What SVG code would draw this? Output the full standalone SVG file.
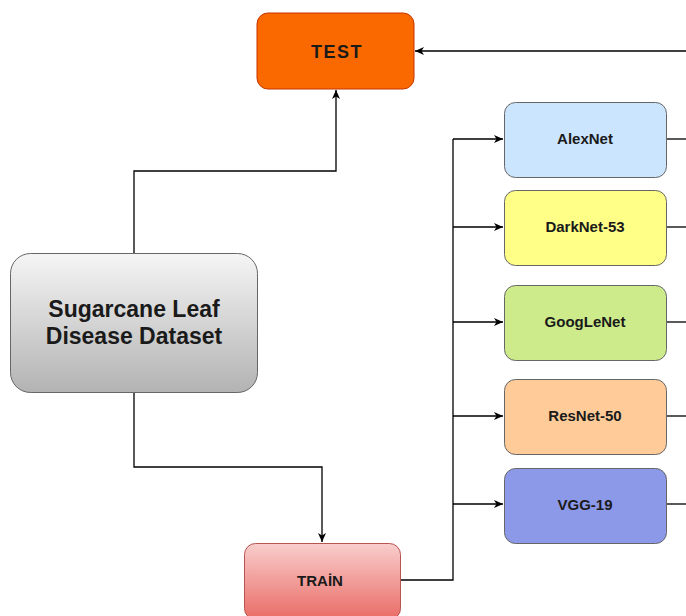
<svg xmlns="http://www.w3.org/2000/svg" width="686" height="616" viewBox="0 0 686 616">
  <defs>
    <linearGradient id="gDataset" x1="0" y1="0" x2="0" y2="1">
      <stop offset="0" stop-color="#f5f5f5"/>
      <stop offset="1" stop-color="#b3b3b3"/>
    </linearGradient>
    <linearGradient id="gTrain" x1="0" y1="0" x2="0" y2="1">
      <stop offset="0" stop-color="#f8cecc"/>
      <stop offset="1" stop-color="#ea6b66"/>
    </linearGradient>
    <marker id="arrow" markerWidth="12" markerHeight="12" refX="10" refY="6" orient="auto" markerUnits="userSpaceOnUse">
      <path d="M1,2 L10,6 L1,10 L3.5,6 Z" fill="#000"/>
    </marker>
    <style>
      .box { stroke-width: 1; }
      .lbl { font-family: "Liberation Sans", Arial, sans-serif; font-weight: bold; text-anchor: middle; fill: #1a1a1a; }
      .edge { fill: none; stroke: #000; stroke-width: 1.3; }
    </style>
  </defs>
  <rect width="686" height="616" fill="#fff"/>

  <!-- connectors -->
  <g id="connectors">
    <path class="edge" d="M686,51 L415,51" marker-end="url(#arrow)"/>
    <path class="edge" d="M134,253 L134,171 L336,171 L336,90" marker-end="url(#arrow)"/>
    <path class="edge" d="M134,393 L134,467 L322,467 L322,542" marker-end="url(#arrow)"/>
    <path class="edge" d="M401,580 L453,580 L453,139"/>
    <path class="edge" d="M453,139 L503,139" marker-end="url(#arrow)"/>
    <path class="edge" d="M453,227 L503,227" marker-end="url(#arrow)"/>
    <path class="edge" d="M453,322 L503,322" marker-end="url(#arrow)"/>
    <path class="edge" d="M453,416 L503,416" marker-end="url(#arrow)"/>
    <path class="edge" d="M453,504 L503,504" marker-end="url(#arrow)"/>
    <path class="edge" d="M667,139 L686,139"/>
    <path class="edge" d="M667,227 L686,227"/>
    <path class="edge" d="M667,322 L686,322"/>
    <path class="edge" d="M667,416 L686,416"/>
    <path class="edge" d="M667,504 L686,504"/>
  </g>

  <g id="test">
    <rect class="box" x="257" y="13" width="157" height="76" rx="11" fill="#fa6800" stroke="#c73500"/>
    <text class="lbl" x="337" y="58" font-size="18" letter-spacing="1.5">TEST</text>
  </g>

  <g id="dataset">
    <rect class="box" x="10.5" y="253.5" width="247" height="139" rx="20" fill="url(#gDataset)" stroke="#666"/>
    <text class="lbl" x="134" y="317" font-size="23">Sugarcane Leaf</text>
    <text class="lbl" x="134" y="344" font-size="23">Disease Dataset</text>
  </g>

  <g id="train">
    <rect class="box" x="244.5" y="543.5" width="156" height="76" rx="11" fill="url(#gTrain)" stroke="#b85450"/>
    <text class="lbl" x="320" y="586" font-size="15">TRAİN</text>
  </g>

  <g id="alexnet">
    <rect class="box" x="504.5" y="102.5" width="162" height="75" rx="11" fill="#cce5ff" stroke="#666"/>
    <text class="lbl" x="585" y="144" font-size="15">AlexNet</text>
  </g>

  <g id="darknet53">
    <rect class="box" x="504.5" y="190.5" width="162" height="75" rx="11" fill="#ffff88" stroke="#666"/>
    <text class="lbl" x="585" y="232" font-size="15">DarkNet-53</text>
  </g>

  <g id="googlenet">
    <rect class="box" x="504.5" y="285.5" width="162" height="75" rx="11" fill="#cdeb8b" stroke="#666"/>
    <text class="lbl" x="585" y="327" font-size="15">GoogLeNet</text>
  </g>

  <g id="resnet50">
    <rect class="box" x="504.5" y="379.5" width="162" height="75" rx="11" fill="#ffcc99" stroke="#666"/>
    <text class="lbl" x="585" y="421" font-size="15">ResNet-50</text>
  </g>

  <g id="vgg19">
    <rect class="box" x="504.5" y="468.5" width="162" height="75" rx="11" fill="#8c98e8" stroke="#666"/>
    <text class="lbl" x="585" y="510" font-size="15">VGG-19</text>
  </g>
</svg>
